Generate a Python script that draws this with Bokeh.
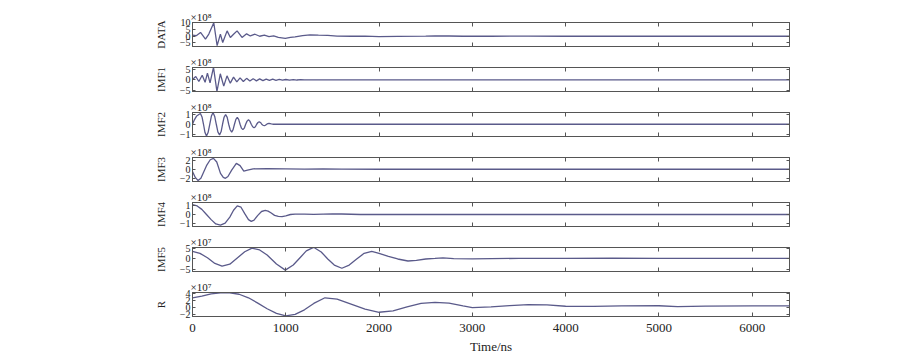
from bokeh.plotting import figure
from bokeh.layouts import column
from bokeh.models import LinearAxis, FixedTicker, Range1d
from bokeh.embed import file_html
from bokeh.resources import INLINE

# ---------------- data ----------------
x_ticks = [0, 1000, 2000, 3000, 4000, 5000, 6000]
x_max = 6400

panel_names = ["DATA", "IMF1", "IMF2", "IMF3", "IMF4", "IMF5", "R"]
panel_scale = ["×10⁸", "×10⁸", "×10⁸", "×10⁸", "×10⁸", "×10⁷", "×10⁷"]
panel_ticks = [[-5, 0, 5, 10], [-5, 0, 5], [-1, 0, 1], [-2, 0, 2], [-1, 0, 1], [-5, 0, 5], [-2, 0, 2, 4]]
panel_ylim = [(-7.6, 10.2), (-5.6, 5.9), (-1.25, 1.2), (-2.7, 2.6), (-1.4, 1.4), (-6.2, 5.7), (-2.5, 4.3)]

data_t = [0, 40, 86, 139, 175, 228, 264, 299, 324, 371, 406, 440, 478, 531, 580, 620, 670,
          720, 770, 820, 870, 920, 995, 1050, 1100, 1180, 1260, 1350, 1450, 1550, 1700, 1850,
          2000, 2200, 2500, 2600, 2750, 2900, 3200, 3600, 4000, 4500, 5000, 5500, 6000, 6400]
data_v = [0.8, 0.4, 2.8, -2.1, 1.6, 10.0, -7.0, 1.6, -4.6, 4.0, -0.9, 1.5, 4.0, -0.9, 1.8, 0.2, 1.5,
          0.0, 0.8, -0.2, 0.3, -0.8, -1.5, -0.9, -0.5, 0.5, 1.0, 0.8, 0.6, 0.1, 0.0, 0.1,
          -0.3, -0.1, 0.1, 0.25, 0.2, 0.0, 0.0, 0.05, 0.0, 0.0, 0.0, 0.0, 0.0, 0.0]

imf1_t = [0, 35, 68, 104, 135, 160, 188, 225, 262, 298, 335, 370, 405, 440, 475, 510, 545, 580,
          615, 650, 685, 720, 755, 790, 825, 860, 895, 930, 965, 1000, 1040, 1080, 1120, 1160,
          1200, 2000, 3000, 4000, 5000, 6400]
imf1_v = [0.2, 1.6, -0.8, 2.2, -1.2, 3.2, -1.5, 6.0, -5.6, 2.9, -3.0, 1.9, -1.6, 1.3, -1.0, 0.9, -0.8, 0.7,
          -0.6, 0.55, -0.5, 0.45, -0.4, 0.35, -0.3, 0.3, -0.25, 0.2, -0.2, 0.15, -0.15, 0.1, -0.1, 0.05,
          0.0, 0.0, 0.0, 0.0, 0.0, 0.0]

imf2_t = [0, 20, 45, 68, 85, 102, 118, 134, 150, 167, 185, 203, 220, 238, 255, 272, 290, 307,
          322, 338, 355, 372, 388, 404, 420, 435, 450, 465, 480, 495, 510, 525, 540, 555, 570,
          585, 600, 615, 630, 645, 660, 674, 688, 702, 715, 729, 742, 756, 770, 782, 795, 808,
          820, 845, 870, 950, 1200, 2000, 3000, 4000, 5000, 6400]
imf2_v = [0.0, 0.45, 0.85, 1.0, 1.1, 0.75, 0.0, -0.85, -1.2, -0.85, 0.0, 0.85, 1.2, 0.8, 0.0, -0.78, -1.1, -0.75,
          0.0, 0.7, 1.0, 0.7, 0.0, -0.56, -0.8, -0.55, 0.0, 0.5, 0.7, 0.5, 0.0, -0.4, -0.55, -0.4, 0.0,
          0.32, 0.45, 0.32, 0.0, -0.25, -0.35, -0.25, 0.0, 0.18, 0.25, 0.18, 0.0, -0.1, -0.15, -0.1, 0.0, 0.07,
          0.1, 0.04, 0.0, 0.0, 0.0, 0.0, 0.0, 0.0, 0.0, 0.0]

imf3_t = [0, 30, 60, 90, 120, 150, 190, 225, 260, 300, 330, 353, 380, 420, 470, 510, 550, 590,
          650, 800, 1000, 1200, 1400, 1600, 2000, 3000, 4000, 5000, 6400]
imf3_v = [-0.5, -1.8, -2.5, -2.0, -0.6, 0.8, 2.1, 2.4, 1.6, -0.9, -1.8, -2.0, -1.6, -0.2, 1.3, 0.8, -0.4, -0.2,
          0.1, 0.15, 0.1, 0.05, 0.1, 0.05, 0.0, 0.0, 0.0, 0.0, 0.0]

imf4_t = [0, 50, 100, 150, 200, 250, 300, 350, 400, 440, 480, 520, 560, 600, 630, 660, 700, 740,
          780, 810, 840, 880, 920, 960, 1000, 1050, 1100, 1200, 1300, 1400, 1500, 1600, 1700, 1800,
          2000, 3000, 4000, 5000, 6400]
imf4_v = [1.15, 1.0, 0.6, 0.0, -0.6, -1.1, -1.25, -1.0, -0.3, 0.5, 1.0, 0.85, 0.1, -0.6, -0.8, -0.65, -0.1, 0.35,
          0.47, 0.4, 0.2, -0.1, -0.22, -0.24, -0.15, 0.0, 0.05, 0.05, 0.02, 0.05, 0.08, 0.06, 0.03, 0.0,
          0.0, 0.0, 0.0, 0.0, 0.0]

imf5_t = [0, 80, 160, 240, 317, 400, 480, 560, 638, 720, 800, 900, 995, 1080, 1150, 1220, 1298, 1380,
          1450, 1520, 1601, 1680, 1760, 1840, 1922, 2000, 2100, 2200, 2310, 2400, 2500, 2600, 2685,
          2800, 3000, 3500, 4000, 4500, 5000, 5500, 6000, 6400]
imf5_v = [3.8, 2.8, 0.6, -2.2, -3.5, -2.6, 0.5, 3.6, 5.4, 4.5, 2.0, -2.5, -5.5, -3.0, 0.5, 4.0, 5.8, 3.5,
          0.0, -3.0, -4.6, -3.0, 0.0, 2.8, 3.8, 2.8, 1.3, 0.0, -1.0, -0.7, 0.0, 0.3, 0.6,
          0.2, 0.1, 0.3, 0.3, 0.4, 0.3, 0.3, 0.3, 0.3]

r_t = [0, 100, 200, 300, 400, 500, 600, 700, 800, 900, 1000, 1100, 1200, 1300, 1420, 1550, 1700,
       1850, 2000, 2150, 2300, 2450, 2600, 2750, 2900, 3000, 3200, 3400, 3600, 3800, 4000, 4300,
       4600, 5000, 5200, 5500, 6000, 6400]
r_v = [2.8, 3.3, 3.9, 4.2, 4.2, 3.8, 2.8, 1.3, -0.3, -1.6, -2.3, -1.9, -0.6, 1.2, 2.8, 2.4, 1.0,
       -0.4, -1.3, -0.9, 0.2, 1.2, 1.5, 1.3, 0.5, 0.0, 0.2, 0.6, 0.85, 0.8, 0.4, 0.35,
       0.5, 0.55, 0.3, 0.45, 0.5, 0.5]

series_t = [data_t, imf1_t, imf2_t, imf3_t, imf4_t, imf5_t, r_t]
series_v = [data_v, imf1_v, imf2_v, imf3_v, imf4_v, imf5_v, r_v]

# ---------------- style ----------------
FONT = "Liberation Serif"
LINE = "#5a5a8a"
FRAME = "#555555"
TXT = "#222222"


def ticks_only(axis):
    axis.major_tick_out = 0
    axis.minor_tick_line_color = None
    axis.axis_line_color = FRAME
    axis.major_tick_line_color = FRAME
    axis.major_label_text_color = None
    axis.major_label_text_font_size = "1px"
    axis.major_label_standoff = 0


figs = []
n = len(panel_names)
for i in range(n):
    first = (i == 0)
    last = (i == n - 1)
    lo, hi = panel_ylim[i]
    p = figure(frame_width=597, frame_height=24,
               min_border_left=192, min_border_right=10,
               min_border_top=(22 if first else 14), min_border_bottom=(39 if last else 7),
               x_range=Range1d(0, x_max), y_range=Range1d(lo, hi),
               output_backend="svg", toolbar_location=None,
               background_fill_color="white", border_fill_color="white")
    p.outline_line_color = FRAME
    p.outline_line_width = 1
    p.xgrid.visible = False
    p.ygrid.visible = False

    p.line(series_t[i], series_v[i], line_color=LINE, line_width=1.3)

    # bottom axis
    xa = p.xaxis[0]
    xa.ticker = FixedTicker(ticks=x_ticks)
    xa.major_tick_in = 4
    if last:
        xa.major_tick_out = 0
        xa.minor_tick_line_color = None
        xa.axis_line_color = FRAME
        xa.major_tick_line_color = FRAME
        xa.major_label_text_font = FONT
        xa.major_label_text_font_size = "13px"
        xa.major_label_text_color = TXT
        xa.major_label_standoff = 7
        xa.axis_label = "Time/ns"
        xa.axis_label_text_font = FONT
        xa.axis_label_text_font_size = "13px"
        xa.axis_label_text_font_style = "normal"
        xa.axis_label_text_color = TXT
        xa.axis_label_standoff = 4
    else:
        ticks_only(xa)

    # top axis (ticks only)
    ta = LinearAxis(ticker=FixedTicker(ticks=x_ticks), major_tick_in=4)
    ticks_only(ta)
    p.add_layout(ta, "above")

    # left axis
    ya = p.yaxis[0]
    ya.ticker = FixedTicker(ticks=panel_ticks[i])
    ya.major_tick_in = 3
    ya.major_tick_out = 0
    ya.minor_tick_line_color = None
    ya.axis_line_color = FRAME
    ya.major_tick_line_color = FRAME
    ya.major_label_text_font = FONT
    ya.major_label_text_font_size = "10px"
    ya.major_label_text_color = TXT
    ya.major_label_standoff = 2
    ya.axis_label = panel_names[i]
    ya.axis_label_text_font = FONT
    ya.axis_label_text_font_size = "11px"
    ya.axis_label_text_font_style = "normal"
    ya.axis_label_text_color = TXT
    ya.axis_label_standoff = 10

    # right axis (ticks only)
    ra = LinearAxis(ticker=FixedTicker(ticks=panel_ticks[i]), major_tick_in=3)
    ticks_only(ra)
    p.add_layout(ra, "right")

    # exponent label
    p.title.text = panel_scale[i]
    p.title.align = "left"
    p.title.offset = -2
    p.title.standoff = 0
    p.title.text_font = FONT
    p.title.text_font_size = "11px"
    p.title.text_font_style = "normal"
    p.title.text_color = TXT

    figs.append(p)

layout = column(*figs, spacing=0)
open("out.html", "w").write(file_html(layout, INLINE))
